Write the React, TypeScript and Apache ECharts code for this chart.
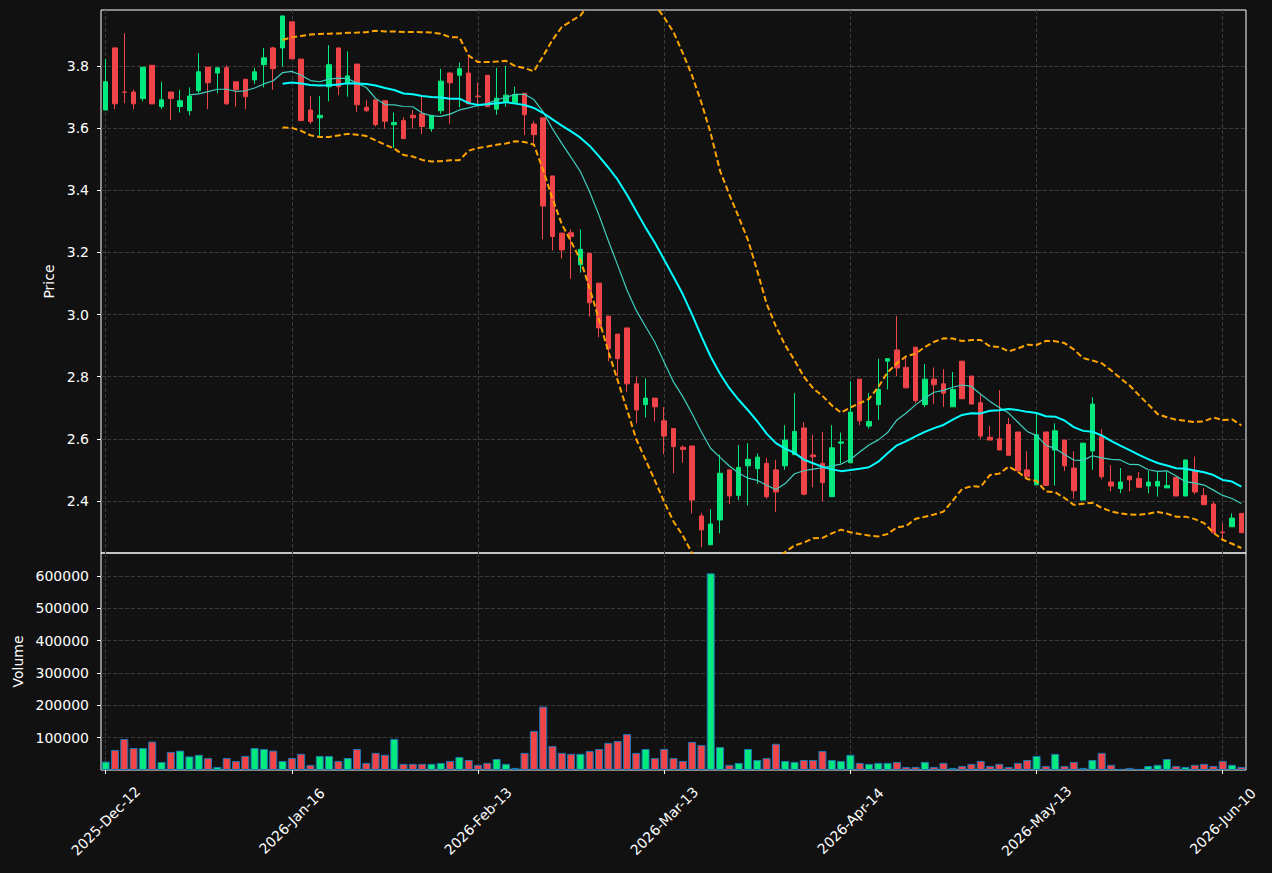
import React, { useEffect, useRef } from "react";
import * as echarts from "echarts";

// ---- tick labels shown on the date axis (every 20th session) ----
const tickLabels = [
  "2025-Dec-12",
  "2026-Jan-16",
  "2026-Feb-13",
  "2026-Mar-13",
  "2026-Apr-14",
  "2026-May-13",
  "2026-Jun-10",
];
const tickStep = 20;
const priceTicks = [2.4, 2.6, 2.8, 3.0, 3.2, 3.4, 3.6, 3.8];
const volumeTicks = [100000, 200000, 300000, 400000, 500000, 600000];

// ---- OHLC per session ----
const opens = [
  3.658, 3.858, 3.716, 3.716, 3.695, 3.802, 3.669, 3.716, 3.669, 3.656,
  3.72, 3.796, 3.777, 3.794, 3.749, 3.757, 3.755, 3.804, 3.858, 3.858,
  3.942, 3.822, 3.658, 3.633, 3.733, 3.858, 3.746, 3.806, 3.667, 3.691,
  3.688, 3.611, 3.624, 3.641, 3.646, 3.598, 3.656, 3.777, 3.77, 3.777,
  3.703, 3.77, 3.661, 3.684, 3.682, 3.712, 3.613, 3.633, 3.446, 3.262,
  3.263, 3.16, 3.197, 3.101, 2.995, 2.937, 2.957, 2.777, 2.71, 2.731,
  2.658, 2.633, 2.573, 2.577, 2.352, 2.259, 2.339, 2.5, 2.418, 2.513,
  2.504, 2.521, 2.5, 2.513, 2.549, 2.635, 2.548, 2.521, 2.414, 2.586,
  2.523, 2.792, 2.641, 2.71, 2.85, 2.886, 2.83, 2.895, 2.71, 2.792,
  2.777, 2.703, 2.85, 2.802, 2.716, 2.605, 2.6, 2.646, 2.622, 2.5,
  2.452, 2.622, 2.564, 2.596, 2.506, 2.403, 2.561, 2.607, 2.461, 2.44,
  2.48, 2.472, 2.448, 2.448, 2.442, 2.476, 2.416, 2.497, 2.418, 2.39,
  2.3, 2.317, 2.36,
];
const closes = [
  3.749, 3.678, 3.715, 3.678, 3.796, 3.678, 3.691, 3.695, 3.688, 3.703,
  3.781, 3.746, 3.794, 3.678, 3.723, 3.701, 3.781, 3.826, 3.791, 3.961,
  3.823, 3.624, 3.621, 3.641, 3.804, 3.733, 3.768, 3.675, 3.656, 3.611,
  3.622, 3.618, 3.566, 3.633, 3.605, 3.641, 3.751, 3.746, 3.791, 3.678,
  3.701, 3.669, 3.696, 3.706, 3.708, 3.643, 3.579, 3.349, 3.251, 3.208,
  3.251, 3.21, 3.038, 2.957, 2.89, 2.858, 2.777, 2.693, 2.731, 2.703,
  2.609, 2.575, 2.566, 2.403, 2.307, 2.326, 2.489, 2.416, 2.508, 2.534,
  2.541, 2.414, 2.429, 2.596, 2.624, 2.422, 2.542, 2.459, 2.571, 2.59,
  2.686, 2.658, 2.656, 2.759, 2.858, 2.828, 2.764, 2.723, 2.792, 2.774,
  2.747, 2.759, 2.729, 2.712, 2.609, 2.596, 2.564, 2.547, 2.497, 2.478,
  2.613, 2.45, 2.626, 2.513, 2.433, 2.586, 2.712, 2.478, 2.448, 2.461,
  2.468, 2.444, 2.461, 2.463, 2.45, 2.416, 2.532, 2.429, 2.388, 2.298,
  2.298, 2.345, 2.298,
];
const lows = [
  3.658, 3.661, 3.68, 3.661, 3.686, 3.678, 3.661, 3.626, 3.65, 3.641,
  3.712, 3.661, 3.712, 3.675, 3.669, 3.661, 3.742, 3.731, 3.723, 3.798,
  3.823, 3.624, 3.613, 3.575, 3.686, 3.706, 3.701, 3.652, 3.652, 3.605,
  3.598, 3.536, 3.566, 3.598, 3.581, 3.588, 3.646, 3.613, 3.667, 3.678,
  3.669, 3.669, 3.643, 3.669, 3.682, 3.577, 3.551, 3.242, 3.206, 3.18,
  3.115, 3.135, 2.993, 2.927, 2.85, 2.8, 2.751, 2.65, 2.669, 2.656,
  2.551, 2.489, 2.523, 2.36, 2.251, 2.259, 2.296, 2.39, 2.403, 2.386,
  2.455, 2.407, 2.365, 2.5, 2.549, 2.418, 2.444, 2.399, 2.414, 2.521,
  2.523, 2.644, 2.633, 2.661, 2.759, 2.802, 2.764, 2.714, 2.702, 2.712,
  2.703, 2.703, 2.729, 2.712, 2.599, 2.596, 2.564, 2.547, 2.497, 2.47,
  2.452, 2.45, 2.45, 2.497, 2.407, 2.403, 2.5, 2.47, 2.431, 2.425,
  2.431, 2.444, 2.425, 2.414, 2.442, 2.416, 2.416, 2.422, 2.388, 2.298,
  2.272, 2.317, 2.298,
];
const highs = [
  3.822, 3.86, 3.905, 3.723, 3.796, 3.802, 3.749, 3.716, 3.723, 3.731,
  3.841, 3.796, 3.794, 3.802, 3.749, 3.757, 3.794, 3.858, 3.862, 3.961,
  3.942, 3.822, 3.703, 3.703, 3.867, 3.858, 3.847, 3.806, 3.691, 3.691,
  3.688, 3.65, 3.635, 3.658, 3.703, 3.641, 3.791, 3.781, 3.811, 3.83,
  3.746, 3.77, 3.794, 3.8, 3.733, 3.712, 3.622, 3.633, 3.446, 3.262,
  3.274, 3.274, 3.197, 3.101, 2.995, 2.937, 2.957, 2.8, 2.794, 2.731,
  2.702, 2.633, 2.579, 2.577, 2.362, 2.373, 2.549, 2.5, 2.58, 2.586,
  2.553, 2.538, 2.532, 2.644, 2.747, 2.654, 2.613, 2.622, 2.644, 2.62,
  2.785, 2.792, 2.747, 2.858, 2.858, 2.995, 2.862, 2.895, 2.841, 2.83,
  2.824, 2.815, 2.85, 2.802, 2.74, 2.641, 2.757, 2.667, 2.622, 2.56,
  2.682, 2.622, 2.65, 2.596, 2.56, 2.586, 2.734, 2.631, 2.515, 2.506,
  2.48, 2.493, 2.497, 2.496, 2.496, 2.476, 2.532, 2.543, 2.442, 2.397,
  2.328, 2.36, 2.36,
];
const volumes = [
  26000, 62000, 96000, 68000, 68000, 88000, 25000, 56000, 60000, 42000,
  47000, 37000, 9500, 37000, 28000, 43500, 68000, 65000, 60000, 28000,
  37000, 50000, 16000, 43500, 43500, 28000, 37000, 65000, 22000, 53000,
  47000, 96000, 19000, 19000, 19000, 19000, 22000, 28000, 40000, 31000,
  16000, 22000, 34000, 19000, 6500, 53000, 121000, 196000, 74000, 53000,
  50000, 50000, 59000, 65000, 84000, 90000, 111000, 53000, 65000, 37000,
  65000, 37000, 28000, 87000, 77000, 608000, 71000, 16000, 22000, 65000,
  31000, 37000, 81000, 28000, 25000, 31000, 31000, 59000, 31000, 28000,
  47000, 22000, 19000, 22000, 22000, 25000, 9500, 9500, 25000, 9500,
  22000, 6500, 12500, 19000, 28000, 12500, 19000, 9500, 22000, 31000,
  43500, 12500, 50000, 12500, 25000, 6500, 31000, 53000, 16000, 3500,
  6500, 3500, 12500, 16000, 34000, 12500, 9500, 16000, 19000, 12500,
  28000, 16000, 9500,
];

// axis ranges
const PRICE_MIN = 2.2326;
const PRICE_MAX = 3.98;
const VOL_MAX = 671000;

const UP = "#03e97d";
const DOWN = "#ef4448";
const FONT = "DejaVu Sans";
const TXT = "#ffffff";
const GRIDC = "#3a3a3a";

// indicators derived from the closes (moving averages & Bollinger bands)
function sma(vals: number[], n: number): (number | null)[] {
  return vals.map((_, i) => {
    if (i < n - 1) return null;
    let s = 0;
    for (let j = i - n + 1; j <= i; j++) s += vals[j];
    return s / n;
  });
}
function bands(vals: number[], n: number, k: number) {
  const mid = sma(vals, n);
  const up: (number | null)[] = [];
  const lo: (number | null)[] = [];
  vals.forEach((_, i) => {
    const m = mid[i];
    if (m === null) {
      up.push(null);
      lo.push(null);
      return;
    }
    let ss = 0;
    for (let j = i - n + 1; j <= i; j++) ss += (vals[j] - m) ** 2;
    const sd = Math.sqrt(ss / (n - 1));
    up.push(m + k * sd);
    lo.push(m - k * sd);
  });
  return { mid, up, lo };
}

export default function App() {
  const ref = useRef<HTMLDivElement>(null);
  useEffect(() => {
    if (!ref.current) return;
    const chart = echarts.init(ref.current, null, { renderer: "svg" });
    const categories = opens.map((_, i) => String(i));
    const ma10 = sma(closes, 10);
    const bb = bands(closes, 20, 2);
    const candles = opens.map((o, i) => [o, closes[i], lows[i], highs[i]]);
    const vols = volumes.map((v, i) => ({
      value: v,
      itemStyle: { color: closes[i] >= opens[i] ? UP : DOWN },
    }));
    const isTick = (i: number) => i % tickStep === 0;

    const splitX = {
      show: true,
      interval: isTick,
      alignWithLabel: true,
      lineStyle: { color: GRIDC, type: [4, 2], width: 1 },
    };

    const option: any = {
      animation: false,
      backgroundColor: "#111111",
      textStyle: { fontFamily: FONT },
      grid: [
        { left: 101, top: 10, width: 1145, height: 543, show: true, borderColor: "#ffffff", borderWidth: 1, backgroundColor: "transparent" },
        { left: 101, top: 553, width: 1145, height: 217, show: true, borderColor: "#ffffff", borderWidth: 1, backgroundColor: "transparent" },
      ],
      xAxis: [
        {
          type: "category",
          gridIndex: 0,
          data: categories,
          boundaryGap: true,
          axisLine: { show: false },
          axisTick: { show: false },
          axisLabel: { show: false },
          splitLine: splitX,
        },
        {
          type: "category",
          gridIndex: 1,
          data: categories,
          boundaryGap: true,
          axisLine: { show: false },
          axisTick: { show: true, interval: isTick, alignWithLabel: true, length: 4, lineStyle: { color: "#ffffff" } },
          axisLabel: {
            interval: isTick,
            rotate: 45,
            align: "center",
            verticalAlign: "middle",
            margin: 51,
            color: TXT,
            fontSize: 14,
            fontFamily: FONT,
            formatter: (_v: string, idx: number) => (isTick(idx) ? tickLabels[idx / tickStep] : ""),
          },
          splitLine: splitX,
        },
      ],
      yAxis: [
        {
          type: "value",
          gridIndex: 0,
          min: PRICE_MIN,
          max: PRICE_MAX,
          splitNumber: 8,
          minInterval: 0.2,
          maxInterval: 0.2,
          axisLine: { show: false },
          axisTick: { show: true, length: 4, customValues: priceTicks, lineStyle: { color: "#ffffff" } },
          axisLabel: {
            color: TXT,
            fontSize: 14,
            fontFamily: FONT,
            margin: 12,
            customValues: priceTicks,
            formatter: (v: number) => {
              const r = Math.round(v / 0.2);
              return Math.abs(v / 0.2 - r) < 1e-6 ? (r * 0.2).toFixed(1) : "";
            },
          },
          splitLine: { show: true, lineStyle: { color: GRIDC, type: [4, 2], width: 1 } },
          name: "Price",
          nameLocation: "middle",
          nameGap: 42,
          nameTextStyle: { color: TXT, fontSize: 14, fontFamily: FONT },
        },
        {
          type: "value",
          gridIndex: 1,
          min: 0,
          max: VOL_MAX,
          splitNumber: 6,
          minInterval: 100000,
          maxInterval: 100000,
          axisLine: { show: false },
          axisTick: { show: true, length: 4, customValues: volumeTicks, lineStyle: { color: "#ffffff" } },
          axisLabel: {
            color: TXT,
            fontSize: 14,
            fontFamily: FONT,
            margin: 12,
            customValues: volumeTicks,
            formatter: (v: number) => (v > 0 && v % 100000 === 0 ? String(v) : ""),
          },
          splitLine: { show: true, lineStyle: { color: GRIDC, type: [4, 2], width: 1 } },
          name: "Volume",
          nameLocation: "middle",
          nameGap: 76,
          nameTextStyle: { color: TXT, fontSize: 14, fontFamily: FONT },
        },
      ],
      series: [
        {
          type: "candlestick",
          xAxisIndex: 0,
          yAxisIndex: 0,
          data: candles,
          barWidth: 5,
          z: 2,
          itemStyle: { color: UP, color0: DOWN, borderColor: UP, borderColor0: DOWN, borderWidth: 1 },
        },
        {
          type: "line",
          name: "MA10",
          xAxisIndex: 0,
          yAxisIndex: 0,
          data: ma10,
          showSymbol: false,
          z: 3,
          lineStyle: { color: "#3fcfbf", width: 1.2 },
        },
        {
          type: "line",
          name: "MA20",
          xAxisIndex: 0,
          yAxisIndex: 0,
          data: bb.mid,
          showSymbol: false,
          z: 4,
          lineStyle: { color: "#00ffff", width: 2 },
        },
        {
          type: "line",
          name: "BB upper",
          xAxisIndex: 0,
          yAxisIndex: 0,
          data: bb.up,
          showSymbol: false,
          z: 4,
          lineStyle: { color: "#ffa500", width: 2, type: [6, 3] },
        },
        {
          type: "line",
          name: "BB lower",
          xAxisIndex: 0,
          yAxisIndex: 0,
          data: bb.lo,
          showSymbol: false,
          z: 4,
          lineStyle: { color: "#ffa500", width: 2, type: [6, 3] },
        },
        {
          type: "bar",
          xAxisIndex: 1,
          yAxisIndex: 1,
          data: vols,
          barWidth: 8,
          itemStyle: { borderColor: "#1f77b4", borderWidth: 1 },
        },
      ],
    };
    chart.setOption(option);
    return () => chart.dispose();
  }, []);
  return (
    <div
      ref={ref}
      style={{ position: "fixed", left: 0, top: 0, width: 1272, height: 873, background: "#111111" }}
    />
  );
}
